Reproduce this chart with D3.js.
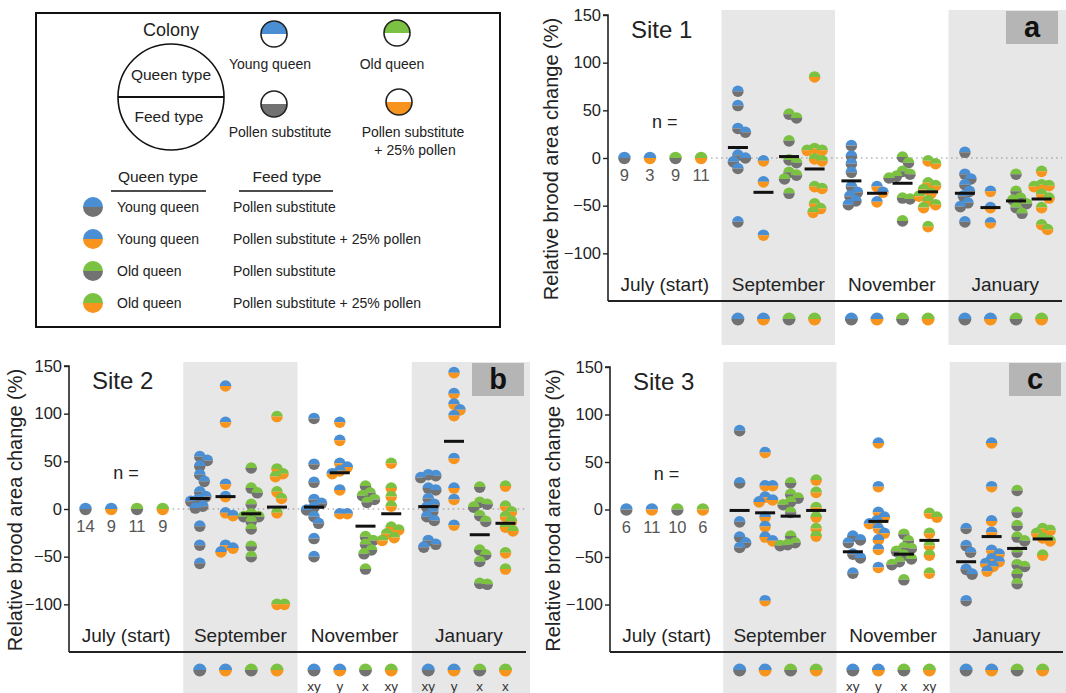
<!DOCTYPE html>
<html>
<head>
<meta charset="utf-8">
<script src="https://cdn.jsdelivr.net/npm/d3@7"></script>
<style>
  html, body { margin: 0; padding: 0; background: #fff; }
  svg { display: block; font-family: "Liberation Sans", Arial, sans-serif; }
</style>
</head>
<body>
<svg id="chart" width="1066" height="693"></svg>
<script>
// ---------------- DATA ----------------
const months = ["July (start)", "September", "November", "January"];
const groups = ["Young queen / Pollen substitute", "Young queen / Pollen substitute + 25% pollen",
                "Old queen / Pollen substitute", "Old queen / Pollen substitute + 25% pollen"];
const yTicks = [150, 100, 50, 0, -50, -100];

// Site 1 (panel a): values per group for each month
const site1Sep = [[70, 55, 31, 27, 3, 0, -4, -11, -67], [-3, -25, -81],
                  [46, 42, 18, -2, -5, -15, -18, -22, -37], [85, 10, 8, 8, -1, -3, -30, -32, -48, -53, -57]];
const site1Nov = [[13, 2, -6, -15, -30, -36, -40, -45, -49], [-30, -36, -46],
                  [1, -5, -14, -17, -19, -21, -42, -43, -66], [-3, -6, -26, -29, -33, -37, -40, -45, -49, -52, -72]];
const site1Jan = [[6, -17, -22, -28, -35, -40, -47, -51, -67], [-35, -52, -68],
                  [-17, -35, -42, -44, -48, -52, -58], [-14, -28, -29, -30, -38, -42, -52, -70, -75]];
const site1Means = [[11, -36, 1.5, -11.5], [-24, -37, -26.5, -35.5], [-37, -52, -45, -43]];
const site1N = [9, 3, 9, 11];

// Site 2 (panel b)
const site2Sep = [[55, 51, 45, 36, 29, 18, 13, 10, 8, 3, 1, -18, -38, -57], [129, 91, 26, 13, -4, -7, -38, -41, -45],
                  [43, 22, 17, 5, -5, -8, -8, -13, -21, -39, -50], [97, 42, 37, 34, 18, 11, -4, -100, -100]];
const site2Nov = [[95, 47, 28, 10, 6, 2, -1, -8, -15, -31, -50], [91, 72, 48, 44, 40, 37, 20, -5, -5],
                  [24, 17, 14, 10, 7, -29, -33, -37, -43, -47, -63], [48, 22, 13, 3, -19, -22, -26, -30, -33]];
const site2Jan = [[36, 35, 33, 22, 20, 11, 5, 2, -3, -8, -12, -33, -37, -40], [143, 121, 110, 104, 98, 53, 22, 10, -17],
                  [23, 7, 5, 2, -7, -13, -43, -48, -55, -79, -78], [24, 3, -3, -8, -13, -19, -23, -46, -63]];
const site2Means = [[11, 13, -5, 2], [2, 38, -18, -5], [2.5, 71, -27, -15]];
const site2N = [14, 9, 11, 9];
const site2Letters = [null, ["xy", "y", "x", "xy"], ["xy", "y", "x", "x"]];

// Site 3 (panel c)
const site3Sep = [[83, 28, -13, -29, -35, -40], [60, 25, 25, 13, 10, 8, -8, -18, -29, -33, -96],
                  [28, 16, 12, 8, 5, -3, -28, -35, -37, -38], [31, 18, 2, -8, -20, -28]];
const site3Nov = [[-28, -32, -35, -47, -51, -67], [70, 24, -3, -8, -12, -15, -20, -25, -32, -42, -61],
                  [-26, -33, -40, -41, -44, -48, -52, -55, -58, -74], [-4, -8, -25, -38, -48, -67]];
const site3Jan = [[-20, -38, -45, -63, -68, -96], [70, 24, -12, -24, -43, -47, -52, -55, -57, -60, -65],
                  [20, -3, -17, -29, -33, -45, -58, -60, -68, -78], [-20, -22, -25, -30, -33, -48]];
const site3Means = [[-1, -3.5, -7, -1], [-44.5, -12.5, -47, -32.5], [-55, -28.5, -41, -31]];
const site3N = [6, 11, 10, 6];
const site3Letters = [null, ["xy", "y", "x", "xy"], null];

// colours
const BLUE = "#4a8fd3", GREEN = "#7cc242", GRAY = "#727272", ORANGE = "#f7941d";
const groupTop = [BLUE, BLUE, GREEN, GREEN];
const groupBottom = [GRAY, ORANGE, GRAY, ORANGE];

// ---------------- DRAW ----------------
const svg = d3.select("#chart");
const FONT = "'Liberation Sans', Arial, sans-serif";
const arcTop = r => d3.arc()({innerRadius: 0, outerRadius: r, startAngle: -Math.PI / 2, endAngle: Math.PI / 2});
const arcBot = r => d3.arc()({innerRadius: 0, outerRadius: r, startAngle: Math.PI / 2, endAngle: 3 * Math.PI / 2});

function halfDot(g, x, y, r, top, bottom, stroke) {
  const d = g.append("g").attr("transform", `translate(${x},${y})`);
  d.append("path").attr("d", arcTop(r)).attr("fill", top);
  d.append("path").attr("d", arcBot(r)).attr("fill", bottom);
  if (stroke) d.append("circle").attr("r", r).attr("fill", "none").attr("stroke", stroke).attr("stroke-width", 1.6);
  return d;
}

function swarm(values, y, minD) {
  const pts = values.map(v => ({v, y: y(v)})).sort((a, b) => a.y - b.y);
  const placed = [];
  pts.forEach(p => {
    let dx = 0;
    outer:
    for (let k = 0; k < 30; k++) {
      const c = k === 0 ? [0] : [k * 1.5, -k * 1.5];
      for (const cx of c) {
        if (placed.every(q => Math.hypot(q.dx - cx, q.y - p.y) >= minD)) { dx = cx; break outer; }
      }
    }
    p.dx = dx; placed.push(p);
  });
  return pts;
}

function drawPanel(cfg) {
  const g = svg.append("g");
  const x = d3.scaleBand().domain(months).range([cfg.left, cfg.right]);
  const inner = d3.scalePoint().domain(d3.range(4)).range([0, x.bandwidth()]).padding(0.72);
  const y = d3.scaleLinear().domain([-150, 150]).range([cfg.bottom, cfg.top]);
  const gx = (m, i) => x(m) + inner(i) - 2;

  // grey bands
  ["September", "January"].forEach(m => {
    g.append("rect").attr("x", x(m)).attr("y", cfg.bandTop)
      .attr("width", m === "January" ? cfg.right + 4 - x(m) : x.bandwidth())
      .attr("height", cfg.bandBottom - cfg.bandTop).attr("fill", "#e7e7e7");
  });
  // label box
  g.append("rect").attr("x", cfg.boxX).attr("y", cfg.bandTop + 1).attr("width", 52).attr("height", 33).attr("fill", "#b5b5b5");
  g.append("text").attr("x", cfg.boxX + 26).attr("y", cfg.bandTop + 27).attr("text-anchor", "middle")
    .attr("font-size", 29).attr("font-weight", "bold").attr("fill", "#111").text(cfg.letter);

  // zero dotted line
  if (cfg.zeroLine) {
    g.append("line").attr("x1", gx(months[0], 3) + 10).attr("x2", cfg.right)
      .attr("y1", y(0)).attr("y2", y(0)).attr("stroke", "#8c8c8c").attr("stroke-width", 1.2)
      .attr("stroke-dasharray", "1.5,3.5");
  }

  // axes
  const yAxis = d3.axisLeft(y).tickValues(yTicks).tickSize(5).tickPadding(2).tickFormat(d3.format("d"));
  const ya = g.append("g").attr("transform", `translate(${cfg.left},0)`).call(yAxis);
  ya.select(".domain").attr("d", `M-5,${cfg.top}H0V${cfg.bottom}`).attr("stroke", "#222").attr("stroke-width", 1.6);
  ya.selectAll(".tick line").attr("stroke", "#222").attr("stroke-width", 1.4);
  ya.selectAll(".tick text").attr("font-size", 16.5).attr("font-family", FONT).attr("fill", "#222");
  g.append("line").attr("x1", cfg.left).attr("x2", cfg.right).attr("y1", cfg.bottom).attr("y2", cfg.bottom)
    .attr("stroke", "#222").attr("stroke-width", 1.8);

  const titleX = Math.max(cfg.left - 50, 22);
  g.append("text").attr("transform", `translate(${titleX},${(cfg.top + cfg.bottom) / 2 + 1}) rotate(-90)`)
    .attr("text-anchor", "middle").attr("font-size", 20).attr("fill", "#222").text("Relative brood area change (%)");

  g.append("text").attr("x", cfg.left + 23).attr("y", cfg.top + 23).attr("font-size", 24).attr("fill", "#222").text(cfg.site);

  // month labels
  months.forEach(m => {
    g.append("text").attr("x", x(m) + x.bandwidth() / 2).attr("y", cfg.bottom - 10)
      .attr("text-anchor", "middle").attr("font-size", 19).attr("fill", "#222").text(m);
  });

  // July start dots + n
  g.append("text").attr("x", x(months[0]) + x.bandwidth() / 2).attr("y", y(0) - 30)
    .attr("text-anchor", "middle").attr("font-size", 18).attr("fill", "#222").text("n =");
  cfg.n.forEach((n, i) => {
    halfDot(g, gx(months[0], i), y(0), 6.2, groupTop[i], groupBottom[i]);
    g.append("text").attr("x", gx(months[0], i)).attr("y", y(0) + 23).attr("text-anchor", "middle")
      .attr("font-size", 16.5).attr("fill", "#555").text(n);
  });

  // data points
  const later = months.slice(1);
  later.forEach((m, mi) => {
    cfg.data[mi].forEach((vals, i) => {
      swarm(vals, y, 7.5).forEach(p => halfDot(g, gx(m, i) + p.dx, p.y, 5.8, groupTop[i], groupBottom[i]));
    });
    cfg.means[mi].forEach((mv, i) => {
      g.append("rect").attr("x", gx(m, i) - 10).attr("y", y(mv) - 1.5).attr("width", 20).attr("height", 3).attr("fill", "#111");
    });
    // bottom identification row
    for (let i = 0; i < 4; i++) {
      halfDot(g, gx(m, i), cfg.bottom + 18, 6.5, groupTop[i], groupBottom[i]);
      if (cfg.letters && cfg.letters[mi]) {
        g.append("text").attr("x", gx(m, i)).attr("y", cfg.bottom + 39).attr("text-anchor", "middle")
          .attr("font-size", 13.5).attr("fill", "#333").text(cfg.letters[mi][i]);
      }
    }
  });
}

drawPanel({left: 608, right: 1062, top: 15, bottom: 301, bandTop: 10, bandBottom: 345, boxX: 1006, letter: "a", site: "Site 1",
  data: [site1Sep, site1Nov, site1Jan], means: site1Means, n: site1N, zeroLine: true});
drawPanel({left: 69, right: 526, top: 366, bottom: 652, bandTop: 362, bandBottom: 693, boxX: 472, letter: "b", site: "Site 2",
  data: [site2Sep, site2Nov, site2Jan], means: site2Means, n: site2N, letters: site2Letters, zeroLine: true});
drawPanel({left: 610, right: 1063, top: 367, bottom: 652, bandTop: 362, bandBottom: 693, boxX: 1009, letter: "c", site: "Site 3",
  data: [site3Sep, site3Nov, site3Jan], means: site3Means, n: site3N, letters: site3Letters, zeroLine: false});

// ---------------- LEGEND ----------------
const L = svg.append("g").attr("fill", "#222");
L.append("rect").attr("x", 36).attr("y", 13).attr("width", 464).attr("height", 314)
  .attr("fill", "#fff").attr("stroke", "#111").attr("stroke-width", 2);
L.append("text").attr("x", 171).attr("y", 36).attr("text-anchor", "middle").attr("font-size", 18).text("Colony");
L.append("circle").attr("cx", 171).attr("cy", 97).attr("r", 53).attr("fill", "#fff").attr("stroke", "#111").attr("stroke-width", 1.6);
L.append("line").attr("x1", 118).attr("x2", 224).attr("y1", 97).attr("y2", 97).attr("stroke", "#111").attr("stroke-width", 2);
L.append("text").attr("x", 171).attr("y", 80).attr("text-anchor", "middle").attr("font-size", 15.5).text("Queen type");
L.append("text").attr("x", 169).attr("y", 122).attr("text-anchor", "middle").attr("font-size", 15.5).text("Feed type");

halfDot(L, 274, 34, 13, BLUE, "#fff", "#222");
halfDot(L, 397, 33, 13, GREEN, "#fff", "#222");
halfDot(L, 274, 104, 13, "#fff", GRAY, "#222");
halfDot(L, 399, 102, 13, "#fff", ORANGE, "#222");
L.append("text").attr("x", 270).attr("y", 69).attr("text-anchor", "middle").attr("font-size", 14).text("Young queen");
L.append("text").attr("x", 392).attr("y", 69).attr("text-anchor", "middle").attr("font-size", 14).text("Old queen");
L.append("text").attr("x", 280).attr("y", 137).attr("text-anchor", "middle").attr("font-size", 14).text("Pollen substitute");
L.append("text").attr("x", 413).attr("y", 137).attr("text-anchor", "middle").attr("font-size", 14).text("Pollen substitute");
L.append("text").attr("x", 415).attr("y", 155).attr("text-anchor", "middle").attr("font-size", 14).text("+ 25% pollen");

L.append("text").attr("x", 158).attr("y", 182).attr("text-anchor", "middle").attr("font-size", 15.5).text("Queen type");
L.append("line").attr("x1", 111).attr("x2", 206).attr("y1", 191).attr("y2", 191).attr("stroke", "#111").attr("stroke-width", 1.6);
L.append("text").attr("x", 287).attr("y", 182).attr("text-anchor", "middle").attr("font-size", 15.5).text("Feed type");
L.append("line").attr("x1", 239).attr("x2", 333).attr("y1", 191).attr("y2", 191).attr("stroke", "#111").attr("stroke-width", 1.6);

const rowQueen = ["Young queen", "Young queen", "Old queen", "Old queen"];
const rowFeed = ["Pollen substitute", "Pollen substitute + 25% pollen", "Pollen substitute", "Pollen substitute + 25% pollen"];
const rowY = d3.scalePoint().domain(d3.range(4)).range([207, 303]);
rowQueen.forEach((q, i) => {
  halfDot(L, 93, rowY(i), 10, groupTop[i], groupBottom[i]);
  L.append("text").attr("x", 117).attr("y", rowY(i) + 5).attr("font-size", 14).text(q);
  L.append("text").attr("x", 233).attr("y", rowY(i) + 5).attr("font-size", 14).text(rowFeed[i]);
});
</script>
</body>
</html>
